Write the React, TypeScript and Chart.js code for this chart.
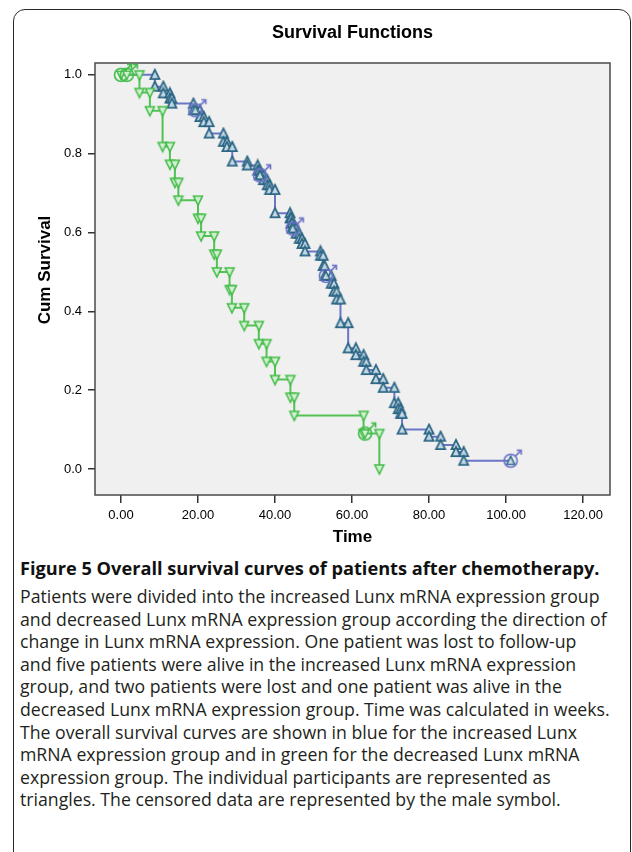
import React, { useEffect, useRef } from "react";
import { Chart, registerables } from "chart.js";

Chart.register(...registerables);

const chartTitle = "Survival Functions";
const xAxisTitle = "Time";
const yAxisTitle = "Cum Survival";
const xTickValues = [0, 20, 40, 60, 80, 100, 120];
const yTickValues = [0, 0.2, 0.4, 0.6, 0.8, 1.0];

// Increased Lunx mRNA expression group (blue)
const increasedTimes = [8.8, 11.0, 12.7, 13.2, 18.8, 20.5, 21.5, 22.9, 26.6, 27.5, 28.9, 32.8, 35.5, 35.9, 37.0, 38.0, 38.6, 40.0, 43.9, 44.2, 44.4, 45.5, 46.3, 47.0, 47.8, 51.8, 52.5, 52.9, 54.6, 55.3, 56.0, 57.0, 59.0, 61.0, 63.0, 63.7, 66.2, 68.1, 71.0, 72.0, 72.6, 73.0, 80.0, 83.0, 87.0, 89.0];
const increasedSurvival = [0.97, 0.953, 0.94, 0.927, 0.91, 0.893, 0.88, 0.851, 0.83, 0.817, 0.78, 0.77, 0.757, 0.745, 0.733, 0.72, 0.708, 0.649, 0.636, 0.623, 0.61, 0.597, 0.584, 0.571, 0.552, 0.541, 0.515, 0.49, 0.47, 0.45, 0.43, 0.37, 0.306, 0.289, 0.272, 0.251, 0.228, 0.206, 0.167, 0.152, 0.14, 0.1, 0.082, 0.061, 0.043, 0.021];
const increasedCensoredTimes = [19.3, 36.1, 44.6, 53.2, 101.2];
const increasedCensoredSurvival = [0.91, 0.745, 0.61, 0.49, 0.021];

// Decreased Lunx mRNA expression group (green)
const decreasedTimes = [4.8, 7.5, 10.8, 12.7, 14.0, 14.9, 20.0, 20.8, 24.2, 24.9, 28.2, 28.8, 32.0, 35.8, 37.8, 40.0, 44.0, 45.0, 63.0, 67.1];
const decreasedSurvival = [0.955, 0.909, 0.818, 0.773, 0.727, 0.682, 0.636, 0.591, 0.545, 0.5, 0.455, 0.409, 0.364, 0.318, 0.273, 0.227, 0.182, 0.136, 0.09, 0.0];
const decreasedCensoredTimes = [0, 1.5, 63.4];
const decreasedCensoredSurvival = [1.0, 1.0, 0.09];

const captionTitle = "Figure 5 Overall survival curves of patients after chemotherapy.";
const captionLines = [
  "Patients were divided into the increased Lunx mRNA expression group",
  "and decreased Lunx mRNA expression group according the direction of",
  "change in Lunx mRNA expression. One patient was lost to follow-up",
  "and five patients were alive in the increased Lunx mRNA expression",
  "group, and two patients were lost and one patient was alive in the",
  "decreased Lunx mRNA expression group. Time was calculated in weeks.",
  "The overall survival curves are shown in blue for the increased Lunx",
  "mRNA expression group and in green for the decreased Lunx mRNA",
  "expression group. The individual participants are represented as",
  "triangles. The censored data are represented by the male symbol.",
];

type Pt = { x: number; y: number; m: boolean };

function buildSteps(times: number[], surv: number[], endTime?: number): Pt[] {
  const pts: Pt[] = [{ x: 0, y: 1, m: false }];
  let prev = 1;
  times.forEach((t, i) => {
    pts.push({ x: t, y: prev, m: true });
    pts.push({ x: t, y: surv[i], m: true });
    prev = surv[i];
  });
  if (endTime !== undefined) pts.push({ x: endTime, y: prev, m: false });
  return pts;
}

function drawTri(ctx: CanvasRenderingContext2D, cx: number, cy: number, s: number, up: boolean, stroke: string, fill: string, lw: number) {
  const h = s * 0.9;
  ctx.beginPath();
  if (up) {
    ctx.moveTo(cx, cy - h / 2 - 1);
    ctx.lineTo(cx + s / 2, cy + h / 2);
    ctx.lineTo(cx - s / 2, cy + h / 2);
  } else {
    ctx.moveTo(cx, cy + h / 2 + 1);
    ctx.lineTo(cx + s / 2, cy - h / 2);
    ctx.lineTo(cx - s / 2, cy - h / 2);
  }
  ctx.closePath();
  ctx.fillStyle = fill;
  ctx.fill();
  ctx.strokeStyle = stroke;
  ctx.lineWidth = lw;
  ctx.stroke();
}

function makeTriangle(up: boolean, stroke: string, fill: string, lw: number) {
  const c = document.createElement("canvas");
  c.width = 14;
  c.height = 14;
  const ctx = c.getContext("2d")!;
  drawTri(ctx, 7, 7, 9, up, stroke, fill, lw);
  return c;
}

function makeMale(color: string, up: boolean, triStroke: string, triFill: string) {
  const c = document.createElement("canvas");
  c.width = 32;
  c.height = 32;
  const ctx = c.getContext("2d")!;
  const cx = 16, cy = 16, r = 6.5;
  drawTri(ctx, cx, cy, 8, up, triStroke, triFill, 1.4);
  ctx.strokeStyle = color;
  ctx.lineWidth = 1.6;
  ctx.beginPath();
  ctx.arc(cx, cy, r, 0, Math.PI * 2);
  ctx.stroke();
  const sx = cx + r * Math.SQRT1_2, sy = cy - r * Math.SQRT1_2;
  const ex = cx + 10.5, ey = cy - 10.5;
  ctx.beginPath();
  ctx.moveTo(sx, sy);
  ctx.lineTo(ex, ey);
  ctx.moveTo(ex - 4.5, ey);
  ctx.lineTo(ex, ey);
  ctx.lineTo(ex, ey + 4.5);
  ctx.stroke();
  return c;
}

export default function App() {
  const ref = useRef<HTMLCanvasElement | null>(null);

  useEffect(() => {
    if (!ref.current) return;
    const blueLine = "#6a76c6";
    const greenLine = "#52c255";
    const triBlue = makeTriangle(true, "#2c6685", "#c4d8e4", 1.8);
    const triGreen = makeTriangle(false, "#45bd4a", "#d3f0d3", 1.5);
    const maleBlue = makeMale("#6a70c8", true, "#2c6685", "#c4d8e4");
    const maleGreen = makeMale("#3fbb47", false, "#45bd4a", "#d3f0d3");

    const blueSteps = buildSteps(increasedTimes, increasedSurvival, increasedCensoredTimes[increasedCensoredTimes.length - 1]);
    const greenSteps = buildSteps(decreasedTimes, decreasedSurvival);

    const framePlugin = {
      id: "frameAndTitles",
      beforeDatasetsDraw(chart: any) {
        const { ctx, chartArea: a } = chart;
        ctx.save();
        ctx.fillStyle = "#f0f0f0";
        ctx.fillRect(a.left, a.top, a.right - a.left, a.bottom - a.top);
        ctx.strokeStyle = "#4a4a4a";
        ctx.lineWidth = 1.5;
        ctx.strokeRect(a.left, a.top, a.right - a.left, a.bottom - a.top);
        ctx.restore();
      },
      afterDraw(chart: any) {
        const { ctx, chartArea: a } = chart;
        const cx = (a.left + a.right) / 2;
        ctx.save();
        ctx.fillStyle = "#000";
        ctx.textAlign = "center";
        ctx.textBaseline = "middle";
        ctx.font = 'bold 18px "Liberation Sans", Arial, sans-serif';
        ctx.fillText(chartTitle, cx, 33);
        ctx.font = 'bold 17px "Liberation Sans", Arial, sans-serif';
        ctx.fillText(xAxisTitle, cx, 537);
        ctx.translate(45, 270);
        ctx.rotate(-Math.PI / 2);
        ctx.fillText(yAxisTitle, 0, 0);
        ctx.restore();
      },
    };

    const tickFont = { family: '"Liberation Sans", Arial, sans-serif', size: 13 };

    const chart = new Chart(ref.current, {
      type: "line",
      data: {
        datasets: [
          {
            label: "censored decreased",
            data: decreasedCensoredTimes.map((t, i) => ({ x: t, y: decreasedCensoredSurvival[i] })),
            showLine: false,
            pointStyle: maleGreen as any,
            pointRadius: 6,
          },
          {
            label: "censored increased",
            data: increasedCensoredTimes.map((t, i) => ({ x: t, y: increasedCensoredSurvival[i] })),
            showLine: false,
            pointStyle: maleBlue as any,
            pointRadius: 6,
          },
          {
            label: "decreased",
            data: greenSteps as any,
            borderColor: greenLine,
            borderWidth: 2,
            fill: false,
            tension: 0,
            pointStyle: triGreen as any,
            pointRadius: (c: any) => (c.raw && c.raw.m ? 5 : 0),
          },
          {
            label: "increased",
            data: blueSteps as any,
            borderColor: blueLine,
            borderWidth: 2,
            fill: false,
            tension: 0,
            pointStyle: triBlue as any,
            pointRadius: (c: any) => (c.raw && c.raw.m ? 5 : 0),
          },
        ],
      },
      options: {
        responsive: false,
        animation: false,
        events: [],
        layout: { padding: { left: 0, right: 22, top: 63, bottom: 0 } },
        plugins: {
          legend: { display: false },
          title: { display: false },
          tooltip: { enabled: false },
        },
        scales: {
          x: {
            type: "linear",
            min: -6.75,
            max: 127,
            afterBuildTicks: (s: any) => {
              s.ticks = xTickValues.map((v) => ({ value: v }));
            },
            afterFit: (s: any) => {
              s.height = 60;
            },
            ticks: {
              font: tickFont,
              color: "#000",
              padding: 5,
              maxRotation: 0,
              autoSkip: false,
              callback: (v: any) => Number(v).toFixed(2),
            },
            grid: { drawOnChartArea: false, drawTicks: true, tickLength: 8, color: "#333", lineWidth: 1.5 },
            border: { display: false },
          },
          y: {
            type: "linear",
            min: -0.066,
            max: 1.03,
            afterBuildTicks: (s: any) => {
              s.ticks = yTickValues.map((v) => ({ value: v }));
            },
            afterFit: (s: any) => {
              s.width = 95;
            },
            ticks: {
              font: tickFont,
              color: "#000",
              padding: 6,
              autoSkip: false,
              callback: (v: any) => Number(v).toFixed(1),
            },
            grid: { drawOnChartArea: false, drawTicks: true, tickLength: 7, color: "#333", lineWidth: 1.5 },
            border: { display: false },
          },
        },
      },
      plugins: [framePlugin],
    });
    return () => chart.destroy();
  }, []);

  const captionFont = '"Open Sans", "Noto Sans", sans-serif';
  return (
    <div style={{ position: "absolute", left: 0, top: 0, width: 632, height: 852, background: "#fff", overflow: "hidden" }}>
      <div
        style={{
          position: "absolute",
          left: 13,
          top: 9,
          width: 618,
          height: 900,
          border: "1.5px solid #2a2a2a",
          borderRadius: 12,
          boxSizing: "border-box",
        }}
      />
      <canvas ref={ref} width={632} height={555} style={{ position: "absolute", left: 0, top: 0, width: 632, height: 555 }} />
      <div
        style={{
          position: "absolute",
          left: 20,
          top: 556,
          lineHeight: "24px",
          fontFamily: captionFont,
          fontWeight: 700,
          fontSize: 18.2,
          color: "#111",
          whiteSpace: "nowrap",
        }}
      >
        {captionTitle}
      </div>
      {captionLines.map((line, i) => (
        <div
          key={i}
          style={{
            position: "absolute",
            left: 20,
            top: 584 + i * 22.6,
            lineHeight: "24px",
            fontFamily: captionFont,
            fontSize: 17.7,
            color: "#231f20",
            whiteSpace: "nowrap",
          }}
        >
          {line}
        </div>
      ))}
    </div>
  );
}
